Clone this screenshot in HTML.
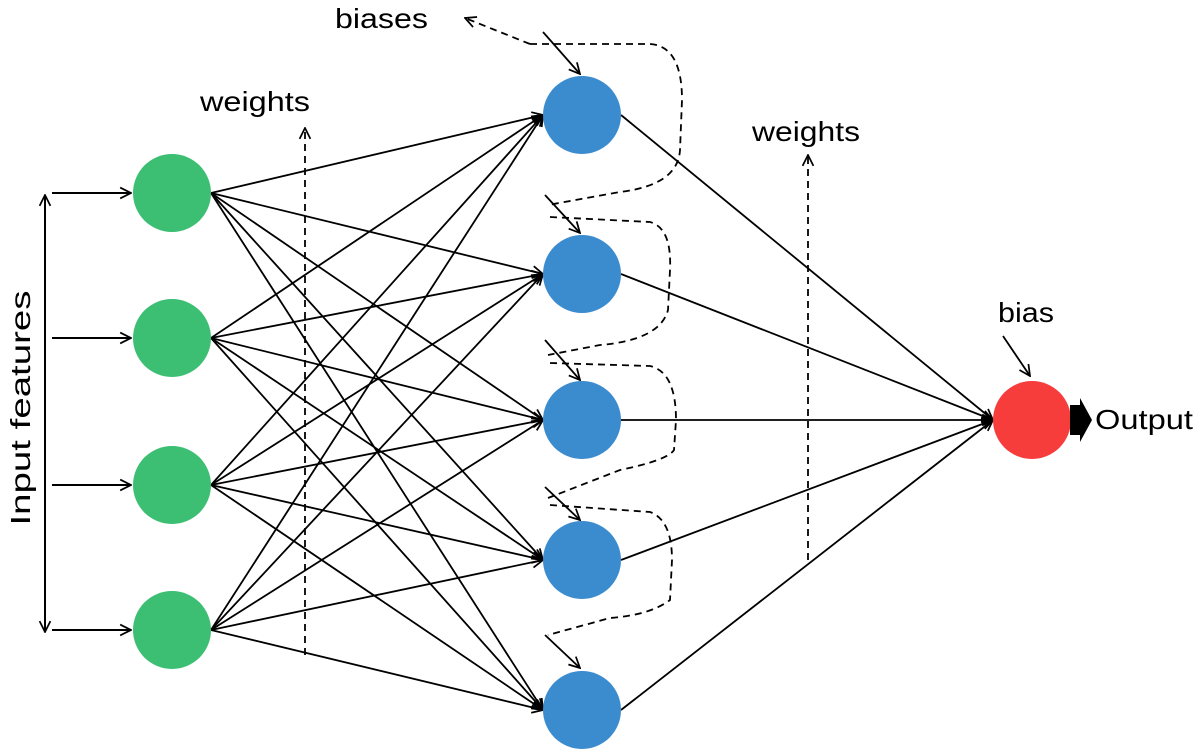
<!DOCTYPE html>
<html><head><style>body{margin:0;background:#fff}svg{display:block}</style></head><body>
<svg width="1200" height="756" viewBox="0 0 1200 756" xmlns="http://www.w3.org/2000/svg" font-family="Liberation Sans, sans-serif">
<defs>
<marker id="a" viewBox="0 0 12 12" refX="11" refY="6" markerWidth="13" markerHeight="13" markerUnits="userSpaceOnUse" orient="auto-start-reverse"><path d="M1,1 L11,6 L1,11" fill="none" stroke="#000" stroke-width="1.6"/></marker>
</defs>
<g stroke="#000" stroke-width="2" fill="none">
<line x1="52" y1="193" x2="131" y2="193" marker-end="url(#a)"/>
<line x1="52" y1="338" x2="131" y2="338" marker-end="url(#a)"/>
<line x1="52" y1="485" x2="131" y2="485" marker-end="url(#a)"/>
<line x1="52" y1="630" x2="131" y2="630" marker-end="url(#a)"/>
<line x1="45" y1="195" x2="45" y2="632" marker-start="url(#a)" marker-end="url(#a)"/>
</g>
<g stroke="#000" stroke-width="1.8" fill="none" marker-end="url(#a)">
<line x1="211" y1="193" x2="543" y2="115"/><line x1="211" y1="193" x2="543" y2="274"/><line x1="211" y1="193" x2="543" y2="420"/><line x1="211" y1="193" x2="543" y2="560"/><line x1="211" y1="193" x2="543" y2="710"/>
<line x1="211" y1="338" x2="543" y2="115"/><line x1="211" y1="338" x2="543" y2="274"/><line x1="211" y1="338" x2="543" y2="420"/><line x1="211" y1="338" x2="543" y2="560"/><line x1="211" y1="338" x2="543" y2="710"/>
<line x1="211" y1="485" x2="543" y2="115"/><line x1="211" y1="485" x2="543" y2="274"/><line x1="211" y1="485" x2="543" y2="420"/><line x1="211" y1="485" x2="543" y2="560"/><line x1="211" y1="485" x2="543" y2="710"/>
<line x1="211" y1="630" x2="543" y2="115"/><line x1="211" y1="630" x2="543" y2="274"/><line x1="211" y1="630" x2="543" y2="420"/><line x1="211" y1="630" x2="543" y2="560"/><line x1="211" y1="630" x2="543" y2="710"/>
<line x1="621" y1="115" x2="993" y2="420"/><line x1="621" y1="274" x2="993" y2="420"/><line x1="621" y1="420" x2="993" y2="420"/><line x1="621" y1="560" x2="993" y2="420"/><line x1="621" y1="710" x2="993" y2="420"/>
<line x1="543" y1="32" x2="580" y2="74"/>
<line x1="545" y1="195" x2="580" y2="233"/>
<line x1="545" y1="340" x2="580" y2="380"/>
<line x1="545" y1="487" x2="580" y2="520"/>
<line x1="545" y1="635" x2="580" y2="668"/>
<line x1="1003" y1="336" x2="1030" y2="376"/>
</g>
<g stroke="#000" stroke-width="1.8" fill="none" stroke-dasharray="7,5">
<path d="M530,44 L465,18" marker-end="url(#a)"/>
<path d="M530,44 L650,44 Q682,46 682,100 L680,150 Q678,185 620,192 L548,205"/>
<path d="M550,217 L650,222 Q672,228 670,270 L668,310 Q660,340 600,345 L548,355"/>
<path d="M550,363 L650,366 Q676,372 676,420 L674,450 Q668,460 620,470 L548,498"/>
<path d="M550,505 L650,512 Q672,520 672,560 L670,600 Q650,615 610,618 L548,635"/>
<line x1="305" y1="655" x2="305" y2="128" marker-end="url(#a)"/>
<line x1="808" y1="560" x2="808" y2="155" marker-end="url(#a)"/>
</g>
<g>
<circle cx="172" cy="193" r="39" fill="#3cbf73"/><circle cx="172" cy="338" r="39" fill="#3cbf73"/><circle cx="172" cy="485" r="39" fill="#3cbf73"/><circle cx="172" cy="630" r="39" fill="#3cbf73"/>
<circle cx="582" cy="115" r="39" fill="#3b8bcf"/><circle cx="582" cy="274" r="39" fill="#3b8bcf"/><circle cx="582" cy="420" r="39" fill="#3b8bcf"/><circle cx="582" cy="560" r="39" fill="#3b8bcf"/><circle cx="582" cy="710" r="39" fill="#3b8bcf"/>
<circle cx="1032" cy="420" r="39" fill="#f73c3c"/>
<path d="M1070,405 L1080,405 L1080,398 L1092,420 L1080,442 L1080,435 L1070,435 Z" fill="#000"/>
</g>
<g font-size="28" fill="#000">
<text x="1095" y="429" textLength="98" lengthAdjust="spacingAndGlyphs">Output</text>
<text x="998" y="322" textLength="56" lengthAdjust="spacingAndGlyphs">bias</text>
<text x="335" y="28" textLength="93" lengthAdjust="spacingAndGlyphs">biases</text>
<text x="200" y="111" textLength="110" lengthAdjust="spacingAndGlyphs">weights</text>
<text x="752" y="141" textLength="108" lengthAdjust="spacingAndGlyphs">weights</text>
<text transform="translate(30,408) rotate(-90)" text-anchor="middle" textLength="235" lengthAdjust="spacingAndGlyphs">Input features</text>
</g>
</svg>
</body></html>
